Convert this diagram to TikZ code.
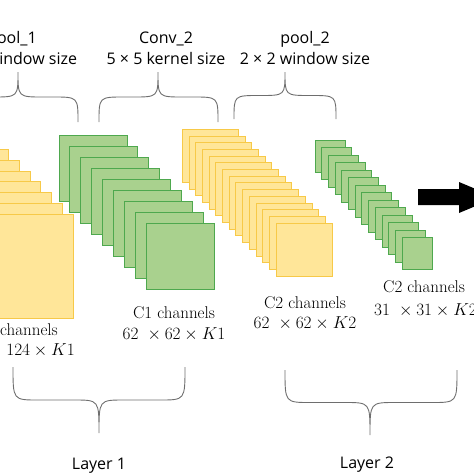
\documentclass[tikz,border=0pt]{standalone}
\usepackage{fontspec}
\newfontfamily\labelsans{Open Sans}
\usepackage{tikz}
\usetikzlibrary{positioning}

\definecolor{yfill}{HTML}{FFE699}
\definecolor{yline}{HTML}{F7C948}
\definecolor{gfill}{HTML}{A9D18E}
\definecolor{gline}{HTML}{4EA84E}
\definecolor{bracegray}{HTML}{6E6E6E}

% ends x, other end x, tip x, end y, tip y
\newcommand{\curlybrace}[5]{%
	\pgfmathsetmacro{\bmid}{(#4+#5)/2}
	\draw[curly] (#1,#4) .. controls (#1,\bmid) .. ({#1+25},\bmid) -- ({#3-25},\bmid)
		.. controls (#3,\bmid) .. (#3,#5) .. controls (#3,\bmid) .. ({#3+25},\bmid)
		-- ({#2-25},\bmid) .. controls (#2,\bmid) .. (#2,#4);}

\begin{document}
\begin{tikzpicture}[x=1pt, y=-1pt,
			ysheet/.style={rectangle, draw=yline, fill=yfill, line width=1pt, inner sep=0, outer sep=0, anchor=north west},
			gsheet/.style={rectangle, draw=gline, fill=gfill, line width=1pt, inner sep=0, outer sep=0, anchor=north west},
			toplbl/.style={font=\labelsans\fontsize{16}{19}\selectfont, inner sep=0, anchor=base},
			chlbl/.style={font=\fontsize{17}{20}\selectfont, inner sep=0, anchor=base},
			curly/.style={draw=bracegray, line width=0.9pt}]

			\useasboundingbox (0,0) rectangle (474,474);
			\clip (0,0) rectangle (474,474);

			% feature map stacks
			\foreach \i in {0,...,6}
				\node[ysheet, minimum width=104pt, minimum height=104pt] (ya\i) at ({-95.2+10.7*\i},{149.8+10.7*\i}) {};
			\foreach \i in {0,...,8}
				\node[gsheet, minimum width=68pt, minimum height=66pt] (ga\i) at ({59+10.9*\i},{135+11.1*\i}) {};
			\foreach \i in {0,...,14}
				\node[ysheet, minimum width=56pt, minimum height=53pt] (yb\i) at ({182.3+6.7*\i},{129.3+6.7*\i}) {};
			\foreach \i in {0,...,13}
				\node[gsheet, minimum width=30pt, minimum height=32pt] (gb\i) at ({315+6.7*\i},{140+7.5*\i}) {};

			\fill[black] (418,189) -- (459,189) -- (459,182) -- (496,197.5) -- (459,213) -- (459,205) -- (418,205) -- cycle;

			% top braces
			\curlybrace{-42}{78}{18}{122}{72}
			\curlybrace{99}{218}{158}{122}{72}
			\curlybrace{234}{336}{285}{119}{72}

			\node[toplbl] (pool1) at (12,43.5) {pool\_1};
			\node[toplbl] (pool1w) at (12,64) {2 × 2 window size};
			\node[toplbl] (conv2) at (166,43.5) {Conv\_2};
			\node[toplbl] (conv2k) at (166,64) {5 × 5 kernel size};
			\node[toplbl] (pool2) at (305,43.5) {pool\_2};
			\node[toplbl] (pool2w) at (305,64) {2 × 2 window size};

			% sizes under the stacks
			\node[chlbl, anchor=base east] (c1a) at (58,335) {C1 channels};
			\node[chlbl, anchor=base east] (c1b) at (75,355) {$124\ \times 124\times K1$};
			\node[chlbl] (c1c) at (174,318) {C1 channels};
			\node[chlbl] (c1d) at (174,339) {$62\ \times 62\times K1$};
			\node[chlbl] (c2a) at (305,308) {C2 channels};
			\node[chlbl] (c2b) at (305,328) {$62\ \times 62\times K2$};
			\node[chlbl, anchor=base west] (c2c) at (383,292) {C2 channels};
			\node[chlbl, anchor=base west] (c2d) at (374,315) {$31\ \times 31\times K2$};

			% bottom braces
			\curlybrace{13}{185}{99}{367}{433}
			\curlybrace{285}{457}{370}{370}{435}

			\node[toplbl] (layer1) at (99,469) {Layer 1};
			\node[toplbl] (layer2) at (367,468) {Layer 2};
		\end{tikzpicture}
\end{document}
